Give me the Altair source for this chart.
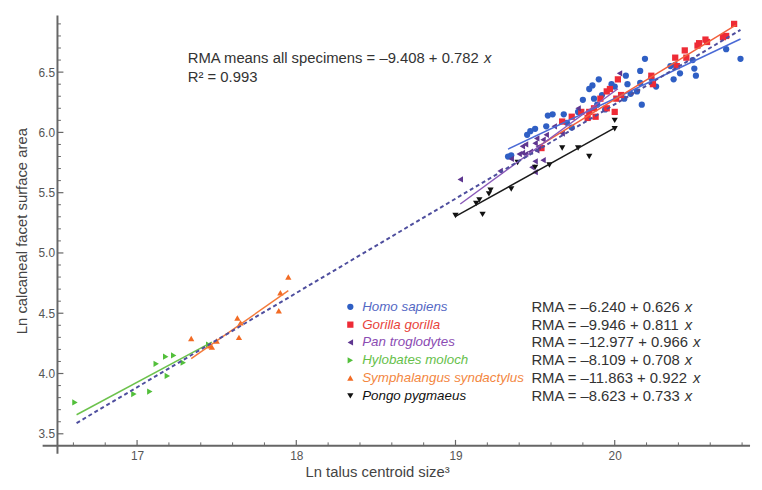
import altair as alt
import pandas as pd

# ---------------- data ----------------
species = ["Homo sapiens", "Gorilla gorilla", "Pan troglodytes",
           "Hylobates moloch", "Symphalangus syndactylus", "Pongo pygmaeus"]
equations = ["RMA = –6.240 + 0.626 ", "RMA = –9.946 + 0.811 ", "RMA = –12.977 + 0.966 ",
             "RMA = –8.109 + 0.708 ", "RMA = –11.863 + 0.922 ", "RMA = –8.623 + 0.733 "]

homo_x = [19.33, 19.35, 19.45, 19.47, 19.50, 19.57, 19.58, 19.61, 19.68, 19.70, 19.73, 19.77,
          19.80, 19.84, 19.86, 19.90, 19.87, 19.89, 19.92, 19.94, 19.98, 20.00, 20.07, 20.08,
          20.06, 20.10, 20.14, 20.16, 20.16, 20.19, 20.17, 20.23, 20.26, 20.35, 20.38, 20.37,
          20.41, 20.49, 20.50, 20.51, 20.70, 20.79]
homo_y = [5.80, 5.81, 5.98, 6.01, 6.03, 6.05, 6.14, 6.15, 6.15, 6.08, 6.04, 6.17,
          6.27, 6.36, 6.39, 6.44, 6.28, 6.23, 6.31, 6.19, 6.40, 6.38, 6.47, 6.40,
          6.28, 6.32, 6.34, 6.41, 6.51, 6.61, 6.23, 6.45, 6.38, 6.55, 6.56, 6.44,
          6.49, 6.60, 6.53, 6.47, 6.69, 6.61]

gorilla_x = [19.54, 19.67, 19.73, 19.79, 19.83, 19.84, 19.87, 19.88, 19.91, 19.95, 19.95, 19.97,
             20.00, 20.01, 20.02, 20.04, 20.23, 20.24, 20.38, 20.39, 20.44, 20.45, 20.52, 20.53,
             20.57, 20.58, 20.68, 20.70, 20.75]
gorilla_y = [5.87, 6.09, 6.13, 6.17, 6.12, 6.17, 6.20, 6.13, 6.28, 6.20, 6.34, 6.36,
             6.17, 6.28, 6.44, 6.31, 6.47, 6.40, 6.62, 6.55, 6.68, 6.62, 6.72, 6.74,
             6.77, 6.75, 6.79, 6.80, 6.90]

pan_x = [19.03, 19.28, 19.35, 19.40, 19.42, 19.44, 19.47, 19.51, 19.52, 19.42, 19.44, 19.50,
         19.51, 19.55, 19.57, 19.50, 19.55, 19.50, 19.48, 19.62, 19.67, 19.77, 20.03]
pan_y = [5.61, 5.68, 5.78, 5.82, 5.83, 5.82, 5.84, 5.85, 5.88, 5.885, 5.90, 5.91,
         5.95, 5.94, 5.98, 5.76, 5.77, 5.67, 5.71, 6.05, 5.99, 6.20, 6.49]

hylo_x = [16.61, 16.98, 17.08, 17.12, 17.18, 17.23, 17.19, 17.29, 17.45]
hylo_y = [3.76, 3.83, 3.85, 4.08, 4.14, 4.15, 3.98, 4.09, 4.24]

symph_x = [17.34, 17.46, 17.47, 17.50, 17.63, 17.64, 17.65, 17.89, 17.90, 17.95]
symph_y = [4.29, 4.23, 4.22, 4.27, 4.46, 4.30, 4.42, 4.52, 4.67, 4.80]

pongo_x = [19.00, 19.13, 19.15, 19.17, 19.21, 19.22, 19.35, 19.39, 19.50, 19.59, 19.67, 19.77,
           19.84, 20.00, 20.00]
pongo_y = [5.31, 5.41, 5.44, 5.32, 5.49, 5.52, 5.53, 5.75, 5.71, 5.73, 5.87, 5.87,
           5.80, 6.10, 6.03]

# RMA line end points (per species)
line_x0 = [19.33, 19.53, 19.03, 16.62, 17.34, 19.00]
line_x1 = [20.79, 20.76, 20.02, 17.47, 17.95, 20.00]
line_y0 = [5.861, 5.893, 5.406, 3.658, 4.124, 5.304]
line_y1 = [6.775, 6.890, 6.362, 4.260, 4.687, 6.037]

# RMA line for all specimens
all_x = [16.62, 20.79]
all_y = [3.589, 6.850]

annotation_main = "RMA means all specimens = –9.408 + 0.782 "
annotation_r2 = "R² = 0.993"

x_major = [17, 18, 19, 20]
x_minor = [16.6, 16.8, 17.2, 17.4, 17.6, 17.8, 18.2, 18.4, 18.6, 18.8,
           19.2, 19.4, 19.6, 19.8, 20.2, 20.4, 20.6, 20.8]
y_major = [3.5, 4.0, 4.5, 5.0, 5.5, 6.0, 6.5]
y_minor = [3.6, 3.7, 3.8, 3.9, 4.1, 4.2, 4.3, 4.4, 4.6, 4.7, 4.8, 4.9,
           5.1, 5.2, 5.3, 5.4, 5.6, 5.7, 5.8, 5.9, 6.1, 6.2, 6.3, 6.4,
           6.6, 6.7, 6.8, 6.9]

# ---------------- styles ----------------
FONT = "Liberation Sans"
W, H = 700, 435
point_colors = ["#2f5fc4", "#ee2b36", "#5e3690", "#52bf3a", "#f26b24", "#111111"]
line_colors = ["#4a6ad6", "#f2603c", "#8a5ab8", "#6cc24c", "#f47a3a", "#1a1a1a"]
text_colors = ["#5468c4", "#e8443c", "#8b4cb3", "#66c04a", "#f3873f", "#111111"]
shapes = ["circle", "square", "triangle-left", "triangle-right", "triangle-up", "triangle-down"]

pts = pd.concat([
    pd.DataFrame({"x": xs, "y": ys, "species": sp})
    for xs, ys, sp in [(homo_x, homo_y, species[0]), (gorilla_x, gorilla_y, species[1]),
                       (pan_x, pan_y, species[2]), (hylo_x, hylo_y, species[3]),
                       (symph_x, symph_y, species[4]), (pongo_x, pongo_y, species[5])]
], ignore_index=True)

lines = pd.DataFrame({
    "species": species + species,
    "x": line_x0 + line_x1,
    "y": line_y0 + line_y1,
})
all_line = pd.DataFrame({"x": all_x, "y": all_y})

xscale = alt.Scale(domain=[16.5, 20.85], nice=False, zero=False)
yscale = alt.Scale(domain=[3.4, 6.97], nice=False, zero=False)
XT = "Ln talus centroid size³"
YT = "Ln calcaneal facet surface area"

xaxis = alt.Axis(values=x_major, format="d", domain=False, ticks=False, grid=False,
                 labelFont=FONT, labelFontSize=12, labelColor="#555555", labelPadding=5,
                 titleFont=FONT, titleFontSize=15, titleFontWeight="normal",
                 titleColor="#444444", titlePadding=3, titleX=323)
yaxis = alt.Axis(values=y_major, format=".1f", domain=False, ticks=False, grid=False,
                 labelFont=FONT, labelFontSize=12, labelColor="#555555", labelPadding=3,
                 titleFont=FONT, titleFontSize=15, titleFontWeight="normal",
                 titleColor="#444444", titlePadding=9)

color_pts = alt.Color("species:N", scale=alt.Scale(domain=species, range=point_colors), legend=None)
shape_pts = alt.Shape("species:N", scale=alt.Scale(domain=species, range=shapes), legend=None)

points = alt.Chart(pts).mark_point(filled=True, size=40, opacity=1).encode(
    x=alt.X("x:Q", scale=xscale, axis=xaxis, title=XT),
    y=alt.Y("y:Q", scale=yscale, axis=yaxis, title=YT),
    color=color_pts, shape=shape_pts,
)

sp_lines = alt.Chart(lines).mark_line(strokeWidth=1.5).encode(
    x=alt.X("x:Q", scale=xscale, title=XT),
    y=alt.Y("y:Q", scale=yscale, title=YT),
    color=alt.Color("species:N", scale=alt.Scale(domain=species, range=line_colors), legend=None),
    detail="species:N",
)

dash_line = alt.Chart(all_line).mark_line(strokeWidth=2, strokeDash=[4, 3], color="#4e4e9e").encode(
    x=alt.X("x:Q", scale=xscale, title=XT),
    y=alt.Y("y:Q", scale=yscale, title=YT),
)

# axes lines and inward ticks (Mathematica style)
dummy = pd.DataFrame({"d": [0]})
axis_col = "#666666"
x_axis_line = alt.Chart(dummy).mark_rule(color=axis_col, strokeWidth=2).encode(
    x=alt.value(-15), x2=alt.value(W), y=alt.value(H))
y_axis_line = alt.Chart(dummy).mark_rule(color=axis_col, strokeWidth=2).encode(
    x=alt.value(0), y=alt.value(0), y2=alt.value(H + 8))

xt_major = alt.Chart(pd.DataFrame({"x": x_major})).mark_rule(color=axis_col, strokeWidth=1.2).encode(
    x=alt.X("x:Q", scale=xscale, title=XT), y=alt.value(H), y2=alt.value(H - 6))
xt_minor = alt.Chart(pd.DataFrame({"x": x_minor})).mark_rule(color=axis_col, strokeWidth=1).encode(
    x=alt.X("x:Q", scale=xscale, title=XT), y=alt.value(H), y2=alt.value(H - 3.5))
yt_major = alt.Chart(pd.DataFrame({"y": y_major})).mark_rule(color=axis_col, strokeWidth=1.2).encode(
    y=alt.Y("y:Q", scale=yscale, title=YT), x=alt.value(0), x2=alt.value(6))
yt_minor = alt.Chart(pd.DataFrame({"y": y_minor})).mark_rule(color=axis_col, strokeWidth=1).encode(
    y=alt.Y("y:Q", scale=yscale, title=YT), x=alt.value(0), x2=alt.value(3.5))

# legend (two columns: name and RMA equation)
leg_df = pd.DataFrame({"species": species, "eq": equations, "row": list(range(len(species)))})
leg_base = alt.Chart(leg_df).transform_calculate(
    ly="294.5 + 18 * datum.row",
    ix="479 + 15 * 10.34 + 15 * 0.556 * (length(datum.eq) - 21)",
)
leg_sym = leg_base.mark_point(filled=True, size=40, opacity=1).encode(
    x=alt.value(296), y=alt.Y("ly:Q", scale=None, axis=None),
    color=color_pts, shape=shape_pts,
)
leg_name = leg_base.mark_text(align="left", baseline="middle", font=FONT, fontSize=13.5,
                              fontStyle="italic").encode(
    x=alt.value(308), y=alt.Y("ly:Q", scale=None, axis=None), text="species:N",
    color=alt.Color("species:N", scale=alt.Scale(domain=species, range=text_colors), legend=None),
)
leg_eq = leg_base.mark_text(align="left", baseline="middle", font=FONT, fontSize=15,
                            color="#333333").encode(
    x=alt.value(479), y=alt.Y("ly:Q", scale=None, axis=None), text="eq:N",
)
leg_x = leg_base.mark_text(align="left", baseline="middle", font=FONT, fontSize=15,
                           fontStyle="italic", color="#333333", text="x").encode(
    x=alt.X("ix:Q", scale=None, axis=None), y=alt.Y("ly:Q", scale=None, axis=None),
)

ann_main = alt.Chart(dummy).mark_text(align="left", baseline="alphabetic", font=FONT, fontSize=15,
                                      color="#333333", text=annotation_main).encode(
    x=alt.value(131.7), y=alt.value(48))
ann_x = alt.Chart(dummy).mark_text(align="left", baseline="alphabetic", font=FONT, fontSize=15,
                                   fontStyle="italic", color="#333333", text="x").encode(
    x=alt.value(131.7 + 15 * 19.954), y=alt.value(48))
ann_r2 = alt.Chart(dummy).mark_text(align="left", baseline="alphabetic", font=FONT, fontSize=15,
                                    color="#333333", text=annotation_r2).encode(
    x=alt.value(131.7), y=alt.value(67))

chart = alt.layer(
    points, x_axis_line, y_axis_line, xt_major, xt_minor, yt_major, yt_minor,
    sp_lines, dash_line, leg_sym, leg_name, leg_eq, leg_x, ann_main, ann_x, ann_r2,
).resolve_scale(color="independent").properties(
    width=W, height=H,
    padding={"left": 50, "top": 5, "right": 4, "bottom": 34},
    autosize=alt.AutoSizeParams(type="none"),
    background="white",
).configure_view(stroke=None)

chart.save("out.html", embed_options={"renderer": "svg", "actions": False})
